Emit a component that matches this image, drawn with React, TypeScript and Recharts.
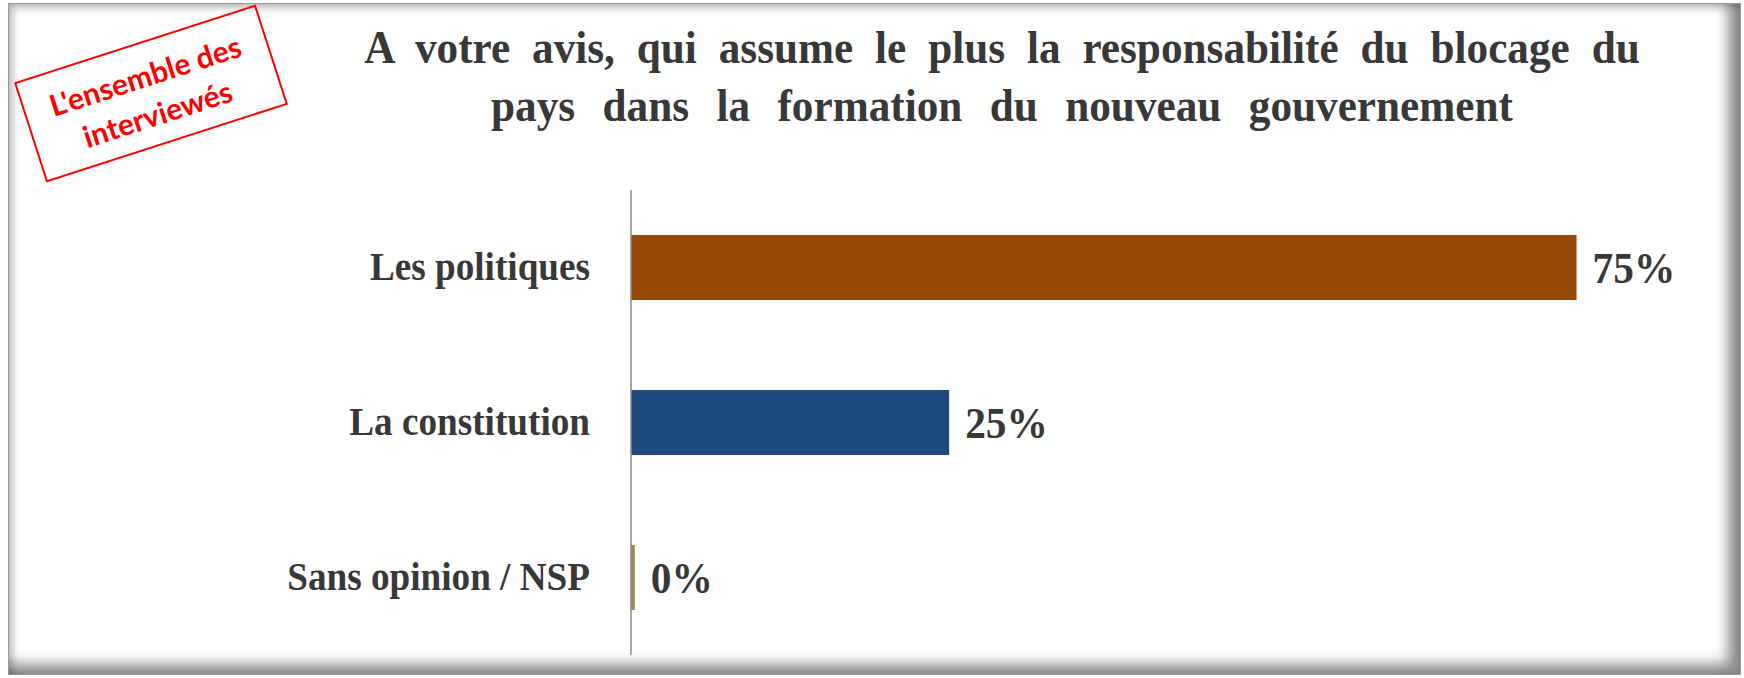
import React from "react";
import { BarChart, Bar, XAxis, YAxis, Cell, LabelList } from "recharts";

const categories = ["Les politiques", "La constitution", "Sans opinion / NSP"];
const values = [74.6, 25.1, 0.3];
const barColors = ["#974706", "#1F497D", "#948A54"];
const titleLines = [
  "A votre avis, qui assume le plus la responsabilité du blocage du",
  "pays dans la formation du nouveau gouvernement",
];
const stampLines = ["L'ensemble des", "interviewés"];

const data = categories.map((c, i) => ({ name: c, value: values[i] }));

const SERIF = "'Liberation Serif', 'Times New Roman', serif";
const TEXT = "#383838";
const titleWordSpacing = [12, 18];

const CatTick = (props: any) => {
  const { x, y, payload } = props;
  return (
    <text
      transform={`translate(${x - 41},${y + 12}) scale(0.93,1)`}
      x={0}
      y={0}
      textAnchor="end"
      fontFamily={SERIF}
      fontWeight="bold"
      fontSize={40}
      fill={TEXT}
    >
      {payload.value}
    </text>
  );
};

const ValueLabel = (props: any) => {
  const { x, y, width, height, value } = props;
  return (
    <text
      transform={`translate(${x + width + 16},${y + height / 2 + 15}) scale(0.94,1)`}
      x={0}
      y={0}
      textAnchor="start"
      fontFamily={SERIF}
      fontWeight="bold"
      fontSize={44}
      fill={TEXT}
    >
      {Math.round(value) + "%"}
    </text>
  );
};

export default function App() {
  return (
    <div
      style={{
        position: "absolute",
        left: 0,
        top: 0,
        width: 1744,
        height: 678,
        background: "#fff",
        overflow: "hidden",
      }}
    >
      <div
        style={{
          position: "absolute",
          left: 8,
          top: 3,
          width: 1733,
          height: 672,
          boxSizing: "border-box",
          border: "1px solid #9a9a9a",
          boxShadow:
            "inset 3px 3px 8px rgba(0,0,0,0.3), inset -12px -10px 14px rgba(0,0,0,0.45)",
        }}
      />
      <div
        style={{
          position: "absolute",
          left: 1002 - 800,
          top: 18,
          width: 1600,
          textAlign: "center",
          fontFamily: SERIF,
          fontWeight: "bold",
          fontSize: 47,
          lineHeight: "58px",
          color: TEXT,
          transform: "scaleX(0.92)",
          transformOrigin: "800px 0",
        }}
      >
        {titleLines.map((l, i) => (
          <div key={i} style={{ wordSpacing: titleWordSpacing[i] }}>
            {l}
          </div>
        ))}
      </div>
      <div
        style={{
          position: "absolute",
          left: 150.5 - 127,
          top: 93 - 52.5,
          width: 254,
          height: 105,
          boxSizing: "border-box",
          border: "2px solid #ff0000",
          transform: "rotate(-17.9deg)",
          display: "flex",
          flexDirection: "column",
          alignItems: "center",
          justifyContent: "center",
          fontFamily: "Lato, 'Open Sans', sans-serif",
          fontWeight: "bold",
          fontSize: 30,
          lineHeight: "40px",
          color: "#ff0000",
        }}
      >
        {stampLines.map((l, i) => (
          <div key={i}>{l}</div>
        ))}
      </div>
      <div style={{ position: "absolute", left: 0, top: 0 }}>
        <BarChart
          width={1744}
          height={678}
          data={data}
          layout="vertical"
          margin={{ top: 190, right: 99, bottom: 23, left: 0 }}
          barCategoryGap="29%"
        >
          <XAxis type="number" domain={[0, 80]} hide />
          <YAxis
            type="category"
            dataKey="name"
            width={631}
            axisLine={{ stroke: "#8a8a8a", strokeWidth: 1.5 }}
            tickLine={false}
            tickSize={0}
            tickMargin={0}
            tick={<CatTick />}
            interval={0}
          />
          <Bar dataKey="value" barSize={65} isAnimationActive={false}>
            {data.map((d, i) => (
              <Cell key={d.name} fill={barColors[i]} />
            ))}
            <LabelList dataKey="value" content={<ValueLabel />} />
          </Bar>
        </BarChart>
      </div>
    </div>
  );
}
